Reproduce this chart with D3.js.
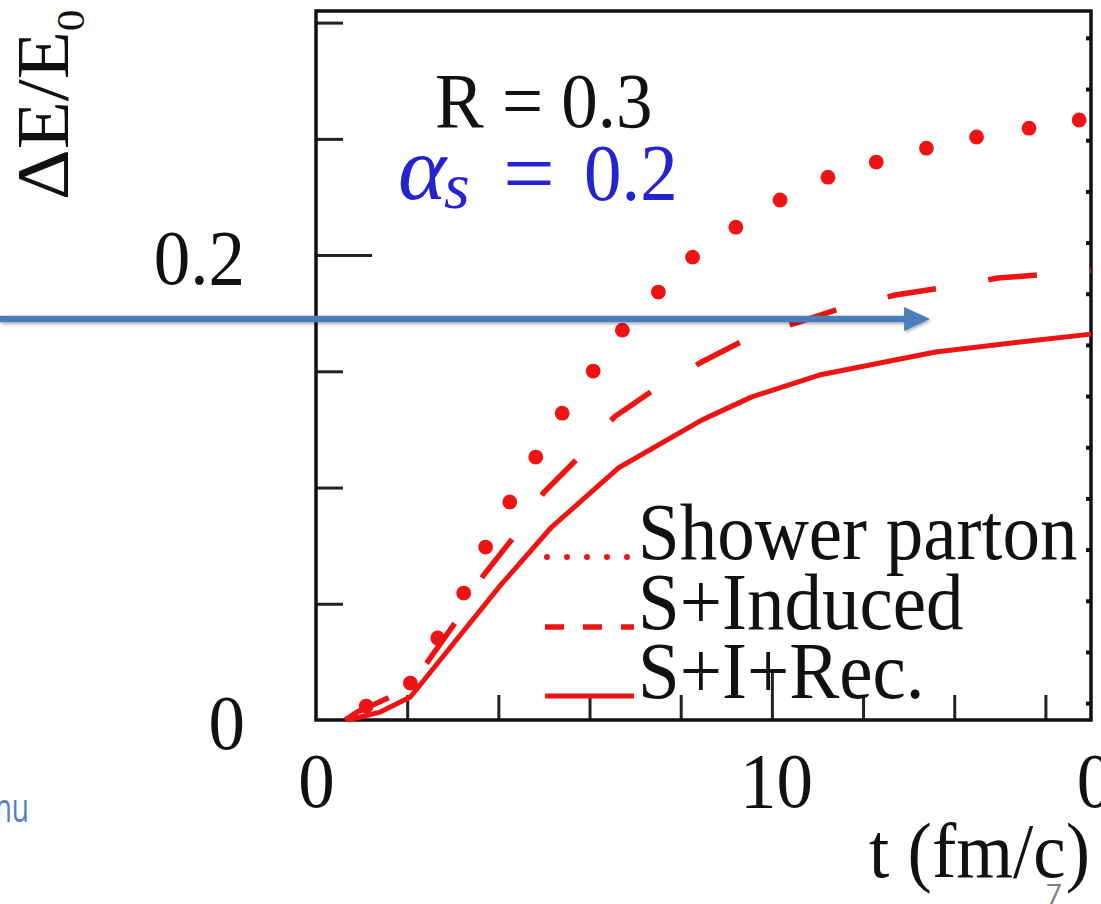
<!DOCTYPE html>
<html>
<head>
<meta charset="utf-8">
<script src="https://cdn.jsdelivr.net/npm/d3@7"></script>
<style>
  html, body { margin: 0; padding: 0; background: #fff; overflow: hidden; }
  svg { display: block; }
  .serif { font-family: "Liberation Serif", "Times New Roman", serif; }
  .st { transform-box: fill-box; transform-origin: 50% 50%; transform: scaleY(1.08); }
  .stx { transform-box: fill-box; transform-origin: 50% 50%; transform: scaleX(1.08); }
  .narrow { transform-box: fill-box; transform-origin: 100% 50%; transform: scaleX(0.7); }
</style>
</head>
<body>
<script>
// ---- energy loss vs time: three contributions ----
const tShower = [1.10, 2.07, 2.67, 3.24, 3.72, 4.25, 4.82, 5.40, 6.08, 6.72, 7.51, 8.26, 9.21, 10.18, 11.23, 12.29, 13.39, 14.49, 15.64, 16.74];
const eShower = [0.0060, 0.0159, 0.0353, 0.0546, 0.0744, 0.0938, 0.1131, 0.1320, 0.1501, 0.1677, 0.1841, 0.1991, 0.2120, 0.2237, 0.2335, 0.2400, 0.2460, 0.2508, 0.2546, 0.2581];

const tInduced = [0.64, 0.90, 1.63, 2.03, 3.06, 3.68, 4.34, 5.00, 5.77, 6.54, 7.47, 8.46, 9.45, 10.59, 11.59, 12.71, 13.81, 14.96, 16.04, 17.0];
const eInduced = [0, 0.0034, 0.0099, 0.0133, 0.0421, 0.0624, 0.0787, 0.0980, 0.1131, 0.1303, 0.1428, 0.1540, 0.1639, 0.1712, 0.1776, 0.1828, 0.1862, 0.1901, 0.1918, 0.1935];

const tRecoil = [0.70, 1.41, 2.07, 3.06, 4.05, 5.15, 6.63, 8.46, 9.56, 11.04, 13.59, 15.79, 17.0];
const eRecoil = [0, 0.0034, 0.0099, 0.0340, 0.0580, 0.0826, 0.1084, 0.1290, 0.1390, 0.1484, 0.1583, 0.1634, 0.1660];

const legendLabels = ["Shower parton", "S+Induced", "S+I+Rec."];
const xTickLabels = [0, 10];
const xMinorTicks = [2, 4, 6, 8, 12, 14, 16];
const yTickLabels = [0, 0.2];
const yMinorTicks = [0.05, 0.1, 0.15, 0.25, 0.3];
// y-axis ticks of the adjoining panel, seen along the right edge
const edgeTicks = [0, 0.02, 0.04, 0.06, 0.08, 0.10, 0.12, 0.14, 0.16, 0.18, 0.20, 0.22, 0.24, 0.26];
const arrowLevel = 0.1725;
const arrowEndT = 13.47;

const W = 1101, H = 904;
const RED = "#ee1414";
const FONT = 73;

const svg = d3.select("body").append("svg").attr("width", W).attr("height", H);
svg.append("rect").attr("width", W).attr("height", H).attr("fill", "#fff");

const defs = svg.append("defs");
const sh = defs.append("filter").attr("id", "shadow").attr("x", "-5%").attr("y", "-50%").attr("width", "110%").attr("height", "200%");
sh.append("feDropShadow").attr("dx", 1).attr("dy", 2).attr("stdDeviation", 1.5).attr("flood-color", "#000").attr("flood-opacity", 0.3);

const x = d3.scaleLinear().domain([0, 17]).range([316, 1091]);
const y = d3.scaleLinear().domain([0, 0.305]).range([720, 11]);
const yEdge = d3.scaleLinear().domain([-0.0066, 0.2705]).range([720, 11]);

const g = svg.append("g");

// minor and major ticks, pointing inward
const tickStyle = sel => {
  sel.select(".domain").remove();
  sel.selectAll(".tick line").attr("stroke", "#222").attr("stroke-width", 3);
};
g.append("g").attr("transform", `translate(${x.range()[0]},0)`)
  .call(d3.axisRight(y).tickValues(yMinorTicks).tickSize(27).tickFormat(""))
  .call(tickStyle);
g.append("g").attr("transform", `translate(${x.range()[0]},0)`)
  .call(d3.axisRight(y).tickValues([0.2]).tickSize(56).tickFormat(""))
  .call(tickStyle);
g.append("g").attr("transform", `translate(0,${y.range()[0]})`)
  .call(d3.axisTop(x).tickValues(xMinorTicks).tickSize(25).tickFormat(""))
  .call(tickStyle);
g.append("g").attr("transform", `translate(0,${y.range()[0]})`)
  .call(d3.axisTop(x).tickValues([10]).tickSize(50).tickFormat(""))
  .call(tickStyle);
g.append("g").attr("transform", `translate(${x.range()[1]},0)`)
  .call(d3.axisLeft(yEdge).tickValues(edgeTicks).tickSize(5).tickFormat(""))
  .call(sel => { sel.select(".domain").remove(); sel.selectAll(".tick line").attr("stroke", "#111").attr("stroke-width", 4); });

// frame
g.append("rect")
  .attr("x", x.range()[0]).attr("y", y.range()[1])
  .attr("width", x.range()[1] - x.range()[0]).attr("height", y.range()[0] - y.range()[1])
  .attr("fill", "none").attr("stroke", "#111").attr("stroke-width", 3.5);

// tick labels
const yLab = g.append("g").attr("transform", `translate(${x.range()[0]},0)`)
  .call(d3.axisLeft(y).tickValues(yTickLabels).tickSize(0).tickPadding(71)
    .tickFormat(d => d === 0 ? "0" : d3.format(".1f")(d)));
yLab.select(".domain").remove();
yLab.selectAll("text").attr("class", "serif st").attr("font-size", FONT).attr("fill", "#111")
  .attr("dy", null).attr("y", 26);

const xLab = g.append("g").attr("transform", `translate(0,${y.range()[0]})`)
  .call(d3.axisBottom(x).tickValues(xTickLabels).tickSize(0).tickFormat(d3.format("d")));
xLab.select(".domain").remove();
xLab.selectAll("text").attr("class", "serif st").attr("font-size", FONT).attr("fill", "#111")
  .attr("dy", null).attr("y", 85).attr("dx", d => d === 10 ? 4 : 0);
// first label of the adjoining panel's x axis
g.append("text").attr("class", "serif st").attr("font-size", FONT).attr("fill", "#111")
  .attr("x", x.range()[1] + 4).attr("y", y.range()[0] + 85).attr("text-anchor", "middle").text("0");

// axis titles
g.append("text").attr("class", "serif st").attr("font-size", FONT).attr("fill", "#111")
  .attr("x", x.range()[1] - 1).attr("y", 875).attr("text-anchor", "end").text("t (fm/c)");
const yt = g.append("g").attr("transform", "translate(68,193) rotate(-90)");
const ytText = yt.append("text").attr("class", "serif stx").attr("font-size", FONT).attr("fill", "#111");
ytText.append("tspan").text("ΔE/E");
ytText.append("tspan").attr("font-size", 40).attr("dy", 16).text("0");

// curves
const line = d3.line().x(d => x(d[0])).y(d => y(d[1]));
g.append("path").datum(d3.zip(tRecoil, eRecoil)).attr("d", line)
  .attr("fill", "none").attr("stroke", RED).attr("stroke-width", 5).attr("stroke-linejoin", "round");
g.append("path").datum(d3.zip(tInduced, eInduced)).attr("d", line)
  .attr("fill", "none").attr("stroke", RED).attr("stroke-width", 5.5)
  .attr("stroke-dasharray", "49 53");
g.append("g").selectAll("circle").data(d3.zip(tShower, eShower)).join("circle")
  .attr("cx", d => x(d[0])).attr("cy", d => y(d[1])).attr("r", 7.4).attr("fill", RED);

// legend
const legY = [557, 627, 696];
const lx0 = 545, lx1 = 634;
const leg = g.append("g");
leg.append("line").attr("x1", lx0 + 2).attr("x2", lx1).attr("y1", legY[0]).attr("y2", legY[0])
  .attr("stroke", RED).attr("stroke-width", 6).attr("stroke-linecap", "round").attr("stroke-dasharray", "0 20");
leg.append("line").attr("x1", lx0).attr("x2", lx1).attr("y1", legY[1]).attr("y2", legY[1])
  .attr("stroke", RED).attr("stroke-width", 5.5).attr("stroke-dasharray", "19 19");
leg.append("line").attr("x1", lx0).attr("x2", lx1).attr("y1", legY[2]).attr("y2", legY[2])
  .attr("stroke", RED).attr("stroke-width", 5);
leg.selectAll("text").data(legendLabels).join("text")
  .attr("class", "serif st").attr("font-size", 75).attr("fill", "#111")
  .attr("x", 638).attr("y", (d, i) => legY[i]).text(d => d);

// parameter labels
g.append("text").attr("class", "serif st").attr("font-size", FONT).attr("fill", "#111")
  .attr("x", 435).attr("y", 125).text("R = 0.3");
const BLUE = "#2323cf";
const al = g.append("g").attr("fill", BLUE);
al.append("text").attr("class", "serif").attr("font-size", 92).attr("font-style", "italic")
  .attr("x", 398).attr("y", 199).text("α");
al.append("text").attr("class", "serif").attr("font-size", 66).attr("font-style", "italic")
  .attr("x", 444).attr("y", 208).text("s");
al.append("text").attr("class", "serif").attr("font-size", 92)
  .attr("x", 503).attr("y", 204).text("=");
al.append("text").attr("class", "serif st").attr("font-size", 75)
  .attr("x", 584).attr("y", 198).text("0.2");

// slide annotation arrow
const ay = y(arrowLevel), ax = x(arrowEndT);
const arrow = svg.append("g").attr("filter", "url(#shadow)");
arrow.append("line").attr("x1", 0).attr("x2", ax - 24).attr("y1", ay).attr("y2", ay)
  .attr("stroke", "#4a7ebb").attr("stroke-width", 6.5);
arrow.append("path")
  .attr("d", `M${ax},${ay} L${ax - 26},${ay - 12} L${ax - 26},${ay + 12} Z`)
  .attr("fill", "#4a7ebb");

// slide footer fragments
svg.append("text").attr("class", "narrow").attr("x", 29).attr("y", 822).attr("text-anchor", "end")
  .attr("font-family", "Open Sans, sans-serif").attr("font-size", 40).attr("fill", "#4f81bd").text("nu");
svg.append("text").attr("x", 1046).attr("y", 904)
  .attr("font-family", "Open Sans, sans-serif").attr("font-size", 28).attr("fill", "#808080").text("7");
</script>
</body>
</html>
